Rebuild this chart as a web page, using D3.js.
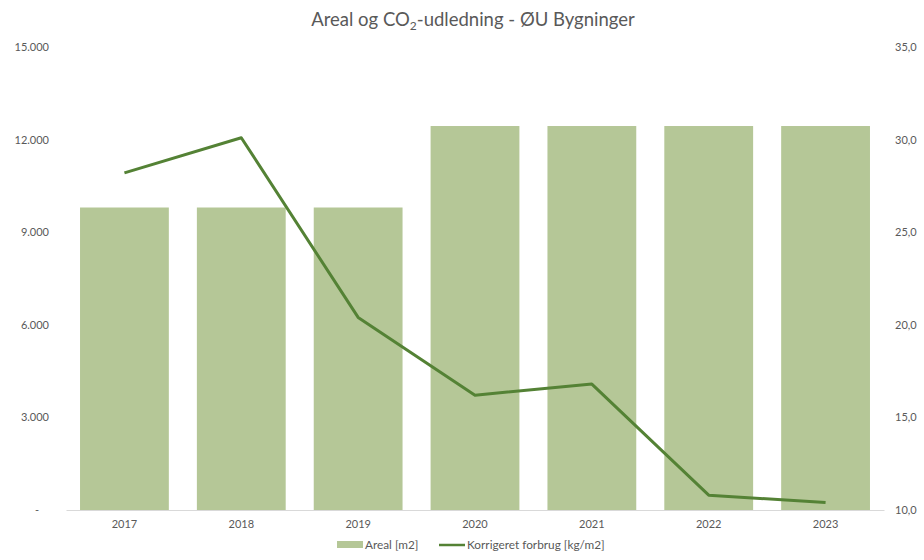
<!DOCTYPE html>
<html>
<head>
<meta charset="utf-8">
<script src="https://cdn.jsdelivr.net/npm/d3@7"></script>
<style>
  body { margin: 0; background: #fff; }
  svg { font-family: "Lato", "Open Sans", sans-serif; }
</style>
</head>
<body>
<div id="chart"></div>
<script>
// data
const years = ["2017", "2018", "2019", "2020", "2021", "2022", "2023"];
const areal = [9800, 9800, 9800, 12440, 12440, 12440, 12440];
const forbrug = [28.2, 30.1, 20.4, 16.2, 16.8, 10.8, 10.4];
const leftTicks = [0, 3000, 6000, 9000, 12000, 15000];
const rightTicks = [10, 15, 20, 25, 30, 35];

const width = 924;
const height = 560;
const marginTop = 47;
const marginBottom = 50;
const marginLeft = 66;
const marginRight = 40;

const barColor = "#b5c797";
const lineColor = "#548235";
const textColor = "#595959";

const svg = d3.select("#chart").append("svg")
    .attr("width", width)
    .attr("height", height);

const x = d3.scaleBand()
    .domain(years)
    .range([marginLeft, width - marginRight])
    .paddingInner(0.24)
    .paddingOuter(0.12);

const yLeft = d3.scaleLinear()
    .domain([0, 15000])
    .range([height - marginBottom, marginTop]);

const yRight = d3.scaleLinear()
    .domain([10, 35])
    .range([height - marginBottom, marginTop]);

// title
const title = svg.append("text")
    .attr("x", width / 2 + 11)
    .attr("y", 26)
    .attr("text-anchor", "middle")
    .attr("fill", textColor)
    .style("font-size", "18.5px");
title.append("tspan").text("Areal og CO");
title.append("tspan").text("2").attr("dy", 4).style("font-size", "12px");
title.append("tspan").text("-udledning - ØU Bygninger").attr("dy", -4);

// bars
svg.append("g")
    .selectAll("rect")
    .data(years)
    .join("rect")
        .attr("x", d => x(d))
        .attr("width", x.bandwidth())
        .attr("y", (d, i) => yLeft(areal[i]))
        .attr("height", (d, i) => yLeft(0) - yLeft(areal[i]))
        .attr("fill", barColor);

// x axis
svg.append("g")
    .attr("transform", `translate(0,${height - marginBottom})`)
    .call(d3.axisBottom(x).tickSize(0).tickPadding(10))
    .call(g => g.select(".domain").attr("stroke", "#d9d9d9"))
    .call(g => g.selectAll("text").attr("fill", textColor).style("font-size", "11px")
        .style("font-family", "Lato, sans-serif"));

// left axis
svg.append("g")
    .attr("transform", `translate(${marginLeft - 14},0)`)
    .call(d3.axisLeft(yLeft).tickValues(leftTicks).tickSize(0)
        .tickFormat(d => d === 0 ? "-" : d3.format(",")(d).replace(/,/g, ".")))
    .call(g => g.select(".domain").remove())
    .call(g => g.selectAll("text").attr("fill", textColor).style("font-size", "11px")
        .style("font-family", "Lato, sans-serif")
        .attr("dx", d => d === 0 ? -10 : 0));

// right axis
svg.append("g")
    .attr("transform", `translate(${width - marginRight + 8},0)`)
    .call(d3.axisRight(yRight).tickValues(rightTicks).tickSize(0)
        .tickFormat(d => d3.format(".1f")(d).replace(".", ",")))
    .call(g => g.select(".domain").remove())
    .call(g => g.selectAll("text").attr("fill", textColor).style("font-size", "11px")
        .style("font-family", "Lato, sans-serif"));

// line
svg.append("path")
    .datum(years)
    .attr("fill", "none")
    .attr("stroke", lineColor)
    .attr("stroke-width", 3)
    .attr("stroke-linejoin", "round")
    .attr("d", d3.line()
        .x(d => x(d) + x.bandwidth() / 2)
        .y((d, i) => yRight(forbrug[i])));

// legend
const legend = svg.append("g").attr("transform", `translate(0,${height - 10})`);
legend.append("rect")
    .attr("x", 337).attr("y", -9).attr("width", 26).attr("height", 7)
    .attr("fill", barColor);
legend.append("text")
    .attr("x", 365).attr("y", -1)
    .attr("fill", textColor).style("font-size", "11.8px")
    .text("Areal [m2]");
legend.append("line")
    .attr("x1", 439).attr("x2", 465).attr("y1", -5).attr("y2", -5)
    .attr("stroke", lineColor).attr("stroke-width", 2.5);
legend.append("text")
    .attr("x", 467).attr("y", -1)
    .attr("fill", textColor).style("font-size", "11.8px")
    .text("Korrigeret forbrug [kg/m2]");
</script>
</body>
</html>
